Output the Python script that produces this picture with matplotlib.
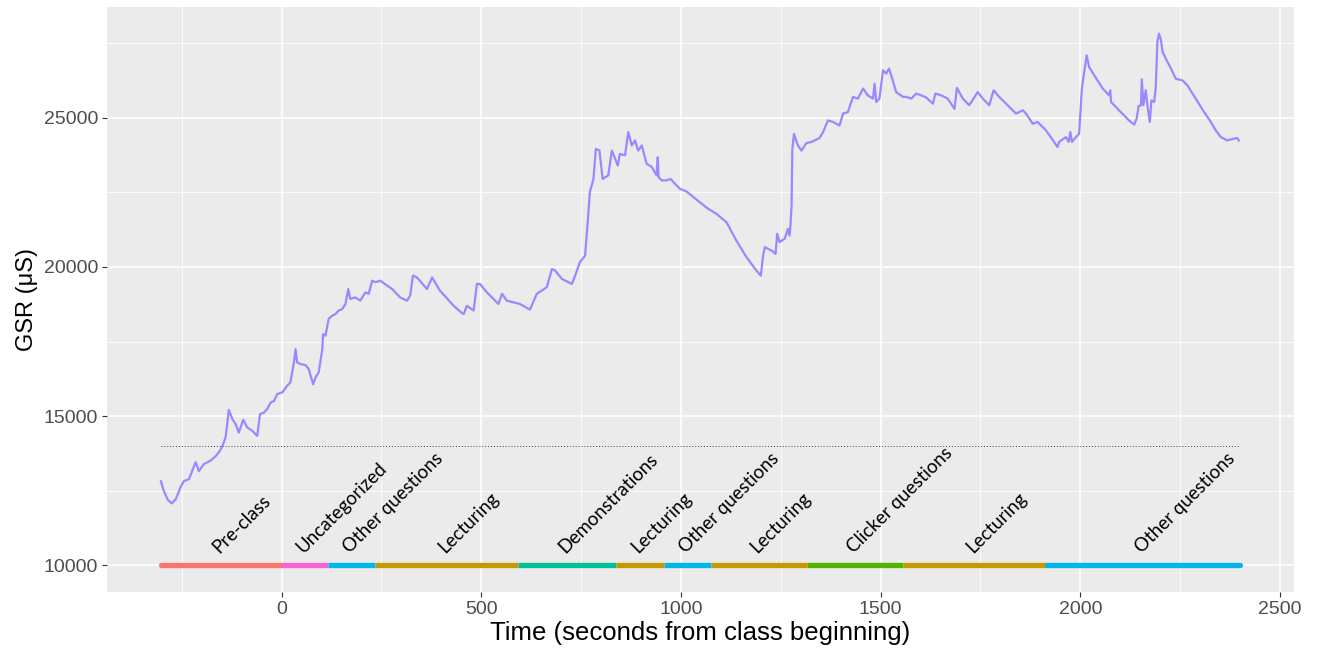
import matplotlib
matplotlib.use('Agg')
import matplotlib.pyplot as plt
from matplotlib.ticker import FixedLocator

plt.rcParams['font.family'] = ['Liberation Sans', 'DejaVu Sans']

# ---- GSR trace (seconds from class beginning, microsiemens) ----
time_s = [-302, -295, -285, -275, -265, -252, -245, -232, -215, -207, -195, -177, -165, -155,
          -147, -140, -132, -123, -115, -107, -96, -86, -73, -61, -54, -44, -36, -27, -19, -11,
          2, 14, 22, 31, 35, 39, 47, 60, 68, 79, 85, 93, 102, 104, 110, 118, 127, 135, 143,
          152, 160, 167, 172, 185, 197, 210, 218, 227, 235, 247, 277, 297, 314, 322, 329, 339,
          364, 377, 397, 431, 452, 456, 464, 481, 489, 497, 514, 543, 552, 564, 597, 622, 639,
          664, 677, 685, 702, 727, 735, 747, 760, 766, 772, 781, 787, 796, 804, 818, 827, 842,
          847, 860, 868, 877, 885, 893, 902, 914, 927, 939, 942, 944, 952, 964, 974, 997, 1014,
          1047, 1068, 1089, 1114, 1139, 1164, 1189, 1200, 1206, 1210, 1227, 1237, 1241, 1247,
          1260, 1268, 1272, 1274, 1277, 1279, 1283, 1293, 1302, 1314, 1327, 1347, 1356, 1368,
          1381, 1397, 1406, 1418, 1431, 1443, 1456, 1468, 1481, 1485, 1489, 1497, 1506, 1514,
          1521, 1529, 1539, 1556, 1564, 1577, 1589, 1602, 1614, 1631, 1637, 1652, 1668, 1685,
          1691, 1706, 1722, 1743, 1756, 1772, 1783, 1797, 1839, 1856, 1864, 1881, 1893, 1914,
          1943, 1947, 1964, 1971, 1975, 1979, 1989, 1997, 2004, 2008, 2016, 2022, 2035, 2056,
          2072, 2075, 2077, 2097, 2122, 2135, 2141, 2146, 2152, 2154, 2158, 2164, 2168, 2174,
          2178, 2185, 2189, 2193, 2197, 2202, 2206, 2214, 2227, 2239, 2256, 2268, 2289, 2310,
          2327, 2339, 2352, 2368, 2385, 2393, 2397]
gsr = [12820, 12500, 12200, 12080, 12215, 12650, 12820, 12890, 13460, 13160, 13390, 13520, 13660, 13830,
       14030, 14300, 15210, 14900, 14730, 14450, 14880, 14620, 14510, 14340, 15070, 15120, 15240, 15460, 15510, 15740,
       15800, 16020, 16130, 16800, 17250, 16800, 16750, 16710, 16580, 16070, 16300, 16470, 17250, 17750, 17700, 18260, 18370, 18420, 18540,
       18590, 18760, 19260, 18930, 18980, 18870, 19150, 19100, 19540, 19490, 19540, 19260, 18980, 18870, 19040, 19710, 19650,
       19260, 19650, 19200, 18700, 18450, 18420, 18700, 18540, 19430, 19430, 19150, 18760, 19100, 18870, 18760, 18570, 19100,
       19320, 19930, 19880, 19600, 19430, 19710, 20160, 20380, 21390, 22510, 22950, 23960, 23900, 22950, 23070, 23900, 23400,
       23790, 23740, 24520, 24070, 24240, 23900, 24070, 23460, 23350, 23070, 23680, 23010, 22900, 22900, 22950, 22620, 22530,
       22170, 21950, 21780, 21500, 20880, 20330, 19880, 19710, 20400, 20660, 20550, 20440, 21110, 20830,
       20950, 21280, 21050, 21330, 22060, 23960, 24460, 24070, 23900, 24150, 24190, 24320, 24520, 24910,
       24860, 24740, 25140, 25190, 25700, 25640, 25980, 25750, 25640, 26140, 25530, 25640, 26590, 26480,
       26650, 26310, 25860, 25700, 25700, 25640, 25810, 25750, 25680, 25470, 25810, 25750, 25640, 25300,
       26000, 25640, 25420, 25860, 25640, 25420, 25920, 25700, 25140, 25250, 25140, 24800, 24860, 24580,
       24020, 24190, 24350, 24190, 24520, 24190, 24350, 24460, 25980, 26370, 27090, 26700, 26420, 25980,
       25750, 25920, 25530, 25250, 24910, 24770, 24970, 25390, 25420, 26290, 25420, 25920, 25420, 24860,
       25580, 25530, 26030, 27540, 27820, 27600, 27210, 26980, 26650, 26310, 26250, 26090, 25640, 25190,
       24860, 24580, 24350, 24240, 24300, 24320, 24240]

# ---- class phases ----
phase_start = [-302, 0, 117, 235, 593, 837, 957, 1075, 1315, 1557, 1917]
phase_end = [0, 117, 235, 593, 837, 957, 1075, 1315, 1557, 1917, 2400]
phase_label = ['Pre-class', 'Uncategorized', 'Other questions', 'Lecturing', 'Demonstrations',
               'Lecturing', 'Other questions', 'Lecturing', 'Clicker questions', 'Lecturing',
               'Other questions']
phase_colors = {'Pre-class': '#F8766D', 'Uncategorized': '#FB61D7', 'Other questions': '#00B6EB',
                'Lecturing': '#C49A00', 'Demonstrations': '#00C094', 'Clicker questions': '#53B400'}
phase_level = 10000
label_level = 10500
threshold = 14000

x_ticks = [0, 500, 1000, 1500, 2000, 2500]
x_minor = [-250, 250, 750, 1250, 1750, 2250]
y_ticks = [10000, 15000, 20000, 25000]
y_minor = [12500, 17500, 22500, 27500]

W, H = 1318, 651
fig = plt.figure(figsize=(W / 100, H / 100), dpi=100)
ax = fig.add_axes([107 / W, 59 / H, (1294 - 107) / W, (592 - 7) / H])
ax.set_facecolor('#EBEBEB')
for s in ax.spines.values():
    s.set_visible(False)

ax.plot(time_s, gsr, color='#9A88FF', lw=1.6, zorder=3)
ax.plot([time_s[0], time_s[-1]], [threshold, threshold], color='#444444', lw=0.7,
        ls=(0, (1, 2)), zorder=2)

for i, (s, e, lab) in enumerate(zip(phase_start, phase_end, phase_label)):
    cap = 'round' if i in (0, len(phase_start) - 1) else 'butt'
    ax.plot([s, e], [phase_level, phase_level], color=phase_colors[lab], lw=3.8,
            solid_capstyle=cap, zorder=3)
    ax.annotate(lab, xy=((s + e) / 2, label_level), xytext=(-4, 0), textcoords='offset points',
                rotation=45, rotation_mode='anchor', ha='left', va='center', fontsize=13.5,
                family=['Lato', 'DejaVu Sans'], color='black', zorder=4)

ax.margins(x=0.05, y=0.05)
ax.xaxis.set_major_locator(FixedLocator(x_ticks))
ax.xaxis.set_minor_locator(FixedLocator(x_minor))
ax.yaxis.set_major_locator(FixedLocator(y_ticks))
ax.yaxis.set_minor_locator(FixedLocator(y_minor))
ax.set_axisbelow(True)
ax.grid(which='major', color='white', lw=1.2)
ax.grid(which='minor', color='white', lw=0.6)
ax.tick_params(which='major', length=3.5, width=0.8, color='#333333', labelcolor='#4D4D4D',
               labelsize=14, pad=3)
ax.tick_params(which='minor', length=0)

ax.set_xlabel('Time (seconds from class beginning)', fontsize=18.5, color='black', labelpad=2)
ax.set_ylabel('GSR (μS)', fontsize=17, color='black')
ax.yaxis.set_label_coords((27 - 107) / (1294 - 107), 0.5)
ax.yaxis.label.set_va('center')

fig.savefig('out.png', dpi=100)
